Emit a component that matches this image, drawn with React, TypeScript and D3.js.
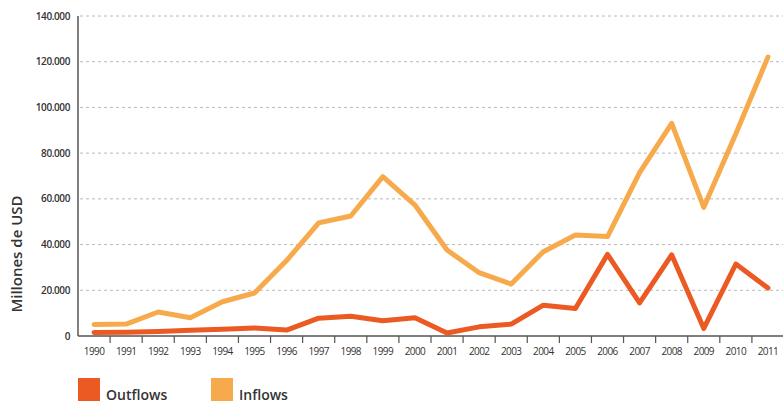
import * as d3 from "d3";
import { useRef, useEffect } from "react";

const years = d3.range(1990, 2012).map(String);
const inflows = [5000, 5200, 10500, 8000, 15000, 18800, 33000, 49500, 52500, 69700, 57300, 37600, 27700, 22700, 36900, 44200, 43500, 71500, 93000, 56300, 88500, 122000];
const outflows = [1500, 1600, 2000, 2500, 3000, 3500, 2600, 7800, 8600, 6700, 8000, 1300, 4000, 5200, 13500, 12000, 35700, 14500, 35500, 3300, 31500, 21000];
const yTicks = [0, 20000, 40000, 60000, 80000, 100000, 120000, 140000];
const legend = ["Outflows", "Inflows"];
const colors = ["#ec5a24", "#f7aa4c"];

export default function App() {
  const svgRef = useRef(null);

  useEffect(() => {
    const svg = d3.select(svgRef.current);
    svg.selectAll("*").remove();

    const left = 78, right = 784, top = 16, bottom = 336;
    const x = d3.scaleBand().domain(years).range([left, right]);
    const y = d3.scaleLinear().domain([0, 140000]).range([bottom, top]);
    const fmt = (v) => d3.format(",")(v).replace(/,/g, ".");

    // grid
    svg.selectAll(".grid")
      .data(yTicks.filter(d => d > 0))
      .enter()
      .append("line")
      .attr("x1", left + 2)
      .attr("x2", 783)
      .attr("y1", d => y(d))
      .attr("y2", d => y(d))
      .attr("stroke", "#b8b8b8")
      .attr("stroke-width", 1)
      .attr("stroke-dasharray", "3,3");

    // y tick labels
    svg.selectAll(".ylab")
      .data(yTicks)
      .enter()
      .append("text")
      .attr("x", left - 8)
      .attr("y", d => y(d) + 3.5)
      .attr("text-anchor", "end")
      .attr("font-family", "Open Sans, sans-serif")
      .attr("font-size", 10)
      .attr("font-weight", 600)
      .attr("letter-spacing", -0.4)
      .attr("fill", "#333")
      .text(d => fmt(d));

    // axes
    svg.append("line")
      .attr("x1", left).attr("x2", left)
      .attr("y1", top).attr("y2", bottom)
      .attr("stroke", "#555").attr("stroke-width", 1.5);
    svg.append("line")
      .attr("x1", left).attr("x2", 783)
      .attr("y1", bottom).attr("y2", bottom)
      .attr("stroke", "#555").attr("stroke-width", 1.5);

    // x ticks between bands
    svg.selectAll(".xtick")
      .data(years.slice(1))
      .enter()
      .append("line")
      .attr("x1", d => x(d))
      .attr("x2", d => x(d))
      .attr("y1", bottom)
      .attr("y2", bottom + 7)
      .attr("stroke", "#555")
      .attr("stroke-width", 1.2);

    svg.selectAll(".xlab")
      .data(years)
      .enter()
      .append("text")
      .attr("x", d => x(d) + x.bandwidth() / 2)
      .attr("y", bottom + 19)
      .attr("text-anchor", "middle")
      .attr("font-family", "Open Sans, sans-serif")
      .attr("font-size", 10)
      .attr("letter-spacing", -0.6)
      .attr("fill", "#333")
      .text(d => d);

    // y title
    svg.append("text")
      .attr("transform", "translate(22,254) rotate(-90)")
      .attr("text-anchor", "middle")
      .attr("font-family", "Open Sans, sans-serif")
      .attr("font-size", 15)
      .attr("font-weight", 600)
      .attr("fill", "#333")
      .text("Millones de USD");

    // lines
    const line = d3.line()
      .x((d, i) => x(years[i]) + x.bandwidth() / 2)
      .y(d => y(d));

    [outflows, inflows].forEach((series, i) => {
      svg.append("path")
        .datum(series)
        .attr("d", line)
        .attr("fill", "none")
        .attr("stroke", colors[i])
        .attr("stroke-width", 5)
        .attr("stroke-linejoin", "round")
        .attr("stroke-linecap", "round");
    });

    // legend
    const lx = [78, 211];
    legend.forEach((name, i) => {
      svg.append("rect")
        .attr("x", lx[i]).attr("y", 378)
        .attr("width", 22).attr("height", 23)
        .attr("fill", colors[i]);
      svg.append("text")
        .attr("x", lx[i] + 28)
        .attr("y", 400)
        .attr("font-family", "Open Sans, sans-serif")
        .attr("font-size", 14)
        .attr("font-weight", 600)
        .attr("fill", "#333")
        .text(name);
    });
  }, []);

  return (
    <div style={{ position: "absolute", left: 0, top: 0 }}>
      <svg ref={svgRef} width={783} height={404}></svg>
    </div>
  );
}
